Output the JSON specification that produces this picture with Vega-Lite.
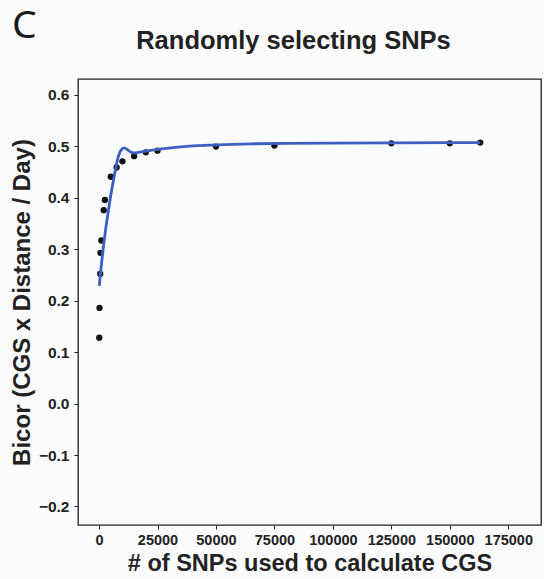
{
  "$schema": "https://vega.github.io/schema/vega-lite/v6.json",
  "background": "#fbfcfe",
  "autosize": {"type": "none"},
  "padding": {"left": 78, "top": 79, "right": 3, "bottom": 54},
  "width": 463,
  "height": 446,
  "title": {"text": "C", "anchor": "start", "frame": "group", "font": "Noto Sans", "fontSize": 39, "fontWeight": "normal", "color": "#1e1a18", "dx": -66, "offset": -49, "baseline": "alphabetic"},
  "config": {
    "view": {"stroke": "#222222", "strokeWidth": 1.3},
    "axis": {
      "grid": false,
      "domain": false,
      "ticks": true,
      "tickColor": "#222222",
      "tickSize": 4,
      "tickWidth": 1,
      "labelFont": "Liberation Sans",
      "labelFontWeight": "bold",
      "labelFontSize": 14.5,
      "labelColor": "#222222",
      "titleFont": "Liberation Sans",
      "titleFontWeight": "bold",
      "titleFontSize": 23.5,
      "titleColor": "#222222"
    }
  },
  "resolve": {"axis": {"x": "independent"}},
  "layer": [
    {
      "data": {"values": [
        {"snps": 100, "bicor": 0.128},
        {"snps": 200, "bicor": 0.186},
        {"snps": 500, "bicor": 0.252},
        {"snps": 600, "bicor": 0.293},
        {"snps": 1000, "bicor": 0.317},
        {"snps": 2000, "bicor": 0.376},
        {"snps": 2500, "bicor": 0.396},
        {"snps": 5000, "bicor": 0.441},
        {"snps": 7500, "bicor": 0.459},
        {"snps": 10000, "bicor": 0.471},
        {"snps": 15000, "bicor": 0.481},
        {"snps": 20000, "bicor": 0.4885},
        {"snps": 25000, "bicor": 0.4917},
        {"snps": 50000, "bicor": 0.4996},
        {"snps": 75000, "bicor": 0.5016},
        {"snps": 125000, "bicor": 0.506},
        {"snps": 150000, "bicor": 0.506},
        {"snps": 163000, "bicor": 0.5074}
      ]},
      "mark": {"type": "circle", "size": 40, "color": "#141210", "opacity": 1},
      "encoding": {
        "x": {"field": "snps", "type": "quantitative", "title": "# of SNPs used to calculate CGS",
              "scale": {"domain": [-9000, 189000], "nice": false, "zero": false},
              "axis": {"orient": "bottom", "values": [0, 25000, 50000, 75000, 100000, 125000, 150000, 175000], "format": "d", "labelPadding": 4, "titlePadding": 5}},
        "y": {"field": "bicor", "type": "quantitative", "title": "Bicor (CGS x Distance / Day)",
              "scale": {"domain": [-0.236, 0.631], "nice": false, "zero": false},
              "axis": {"values": [-0.2, -0.1, 0, 0.1, 0.2, 0.3, 0.4, 0.5, 0.6], "format": ".1f", "labelPadding": 5, "labelFontSize": 15.5, "titlePadding": 4, "titleFontSize": 24}}
      }
    },
    {
      "data": {"values": [
        {"snps": 100, "bicor": 0.229},
        {"snps": 1000, "bicor": 0.27},
        {"snps": 2000, "bicor": 0.31},
        {"snps": 3000, "bicor": 0.345},
        {"snps": 4000, "bicor": 0.375},
        {"snps": 5000, "bicor": 0.405},
        {"snps": 6000, "bicor": 0.43},
        {"snps": 7000, "bicor": 0.455},
        {"snps": 8000, "bicor": 0.477},
        {"snps": 9000, "bicor": 0.49},
        {"snps": 10000, "bicor": 0.496},
        {"snps": 11000, "bicor": 0.497},
        {"snps": 12000, "bicor": 0.494},
        {"snps": 13500, "bicor": 0.489},
        {"snps": 15000, "bicor": 0.487},
        {"snps": 17500, "bicor": 0.489},
        {"snps": 20000, "bicor": 0.491},
        {"snps": 25000, "bicor": 0.494},
        {"snps": 32500, "bicor": 0.498},
        {"snps": 40000, "bicor": 0.501},
        {"snps": 50000, "bicor": 0.503},
        {"snps": 65000, "bicor": 0.505},
        {"snps": 80000, "bicor": 0.506},
        {"snps": 100000, "bicor": 0.5065},
        {"snps": 125000, "bicor": 0.507},
        {"snps": 150000, "bicor": 0.5072},
        {"snps": 163000, "bicor": 0.5074}
      ]},
      "mark": {"type": "line", "color": "#3d5fc2", "strokeWidth": 2.8},
      "encoding": {
        "x": {"field": "snps", "type": "quantitative", "title": "Randomly selecting SNPs",
              "axis": {"orient": "top", "labels": false, "ticks": false, "domain": false, "titleFontSize": 25.5, "titleX": 215, "titlePadding": 26}},
        "y": {"field": "bicor", "type": "quantitative"}
      }
    }
  ]
}
